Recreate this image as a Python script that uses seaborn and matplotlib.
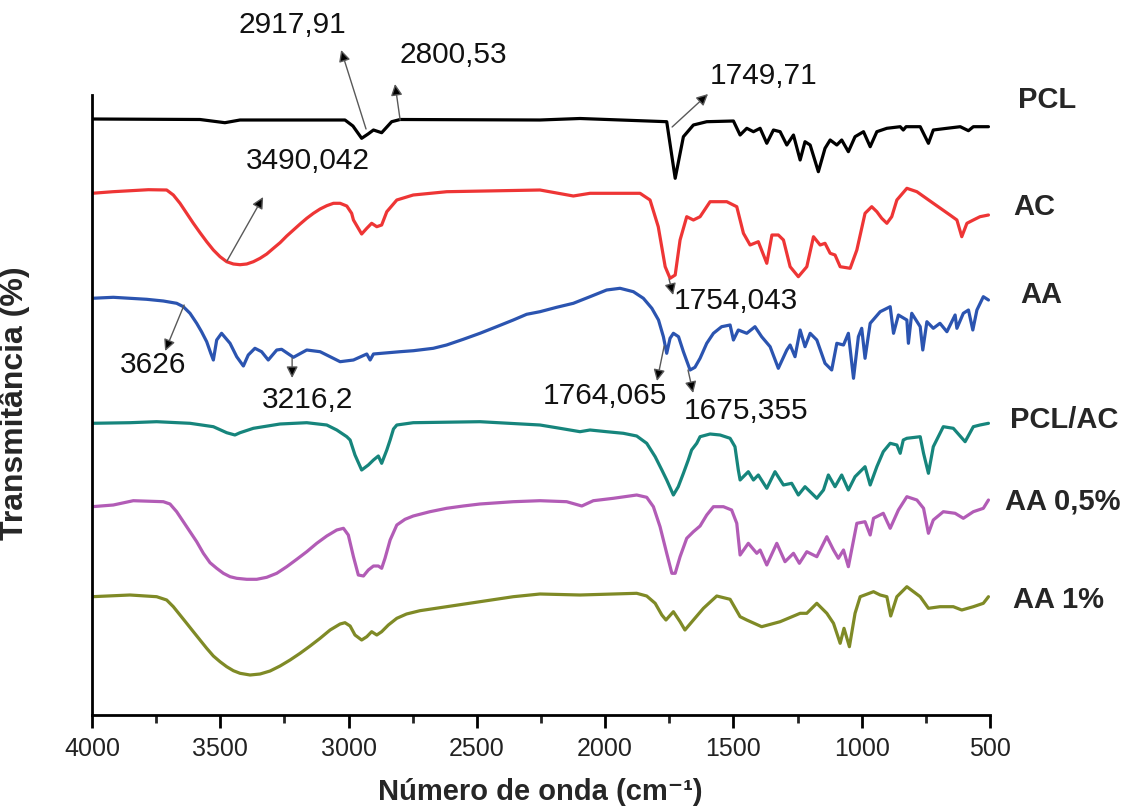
import matplotlib.pyplot as plt
import seaborn as sns
import numpy as np

#
# 01. Dados (número de onda em cm-1, transmitância em unidades arbitrárias, já deslocadas)
#
pcl_wn = [4000, 3579, 3482, 3423, 3014, 2983, 2949, 2924, 2903, 2871, 2832, 2799, 2254, 2098,
          1760, 1727, 1695, 1656, 1604, 1500, 1474, 1448, 1422, 1396, 1370, 1344, 1318, 1292,
          1266, 1240, 1221, 1201, 1169, 1143, 1123, 1097, 1078, 1052, 1026, 993, 967, 941,
          902, 850, 838, 827, 772, 740, 721, 668, 616, 584, 565, 506]
pcl_t = [596, 595.5, 592.3, 595, 595, 589, 576.7, 581, 585, 582.3, 593.3, 595.5, 595, 596.5,
         593.3, 536.7, 578.3, 590, 593.3, 594, 580, 586.7, 583.3, 586.7, 571.7, 585, 583.3, 570,
         580, 555, 573.3, 570, 543.3, 566.7, 575, 570, 575, 563.3, 578.3, 583.3, 568.3, 583.3,
         586.7, 588.3, 585, 588.3, 588.3, 571.7, 585, 586.7, 588.3, 584.3, 588.3, 588.3]

ac_wn = [4000, 3918, 3780, 3709, 3683, 3657, 3631, 3605, 3579, 3553, 3527, 3501, 3475, 3449,
         3423, 3397, 3371, 3345, 3319, 3293, 3267, 3241, 3215, 3189, 3163, 3137, 3111, 3085,
         3059, 3033, 3007, 2988, 2981, 2949, 2929, 2910, 2890, 2871, 2851, 2812, 2748, 2617,
         2254, 2124, 2059, 1864, 1825, 1793, 1766, 1747, 1727, 1708, 1682, 1656, 1630, 1591,
         1526, 1487, 1461, 1435, 1403, 1370, 1350, 1325, 1305, 1279, 1247, 1214, 1188, 1162,
         1143, 1123, 1104, 1084, 1045, 1019, 987, 961, 941, 922, 902, 883, 863, 824, 785, 721,
         656, 629, 610, 590, 565, 539, 506]
ac_t = [521.7, 523.3, 525.3, 525, 520, 511.7, 501.7, 491.7, 482.3, 473.3, 465, 458.3, 453.3, 451,
        450.3, 451, 453.3, 456.7, 461, 466.7, 472.3, 479, 485, 491, 496.7, 501.7, 506, 509.3,
        511.7, 511.7, 509, 501.7, 495, 481, 486.7, 491.7, 488.3, 490, 503.3, 515, 520, 523.3,
        525, 519, 521.7, 521.7, 515, 488.3, 448.3, 436.7, 440, 475, 498.3, 495, 498.3, 513.3,
        513.3, 508.3, 481.7, 470, 473.3, 451.7, 480, 480, 475, 448.3, 438.3, 448.3, 478.3, 470,
        471.7, 461.7, 460, 448.3, 446.7, 465, 501.7, 508.3, 503.3, 496.7, 491.7, 498.3, 515, 526.7, 523.3, 511.7,
        500, 495, 478.3, 491.7, 495, 498.3, 500]

aa_wn = [4000, 3917, 3787, 3722, 3670, 3644, 3618, 3592, 3573, 3553, 3537, 3527, 3514, 3495,
         3462, 3436, 3410, 3391, 3365, 3339, 3313, 3280, 3261, 3215, 3163, 3111, 3033, 2981,
         2929, 2916, 2903, 2799, 2747, 2670, 2618, 2553, 2488, 2423, 2358, 2306, 2254, 2189,
         2124, 2059, 1994, 1942, 1890, 1851, 1818, 1792, 1773, 1760, 1747, 1734, 1714, 1695,
         1669, 1650, 1630, 1604, 1578, 1546, 1513, 1500, 1481, 1448, 1416, 1390, 1357, 1325,
         1292, 1279, 1260, 1240, 1221, 1201, 1175, 1143, 1117, 1097, 1071, 1052, 1032, 1013,
         1000, 987, 967, 928, 889, 876, 857, 824, 818, 805, 772, 762, 746, 721, 695, 668, 636,
         629, 604, 584, 567, 551, 526, 506]
aa_t = [416.7, 417.7, 415.7, 414, 411.7, 408.3, 401.7, 391.7, 383.3, 373.3, 361.7, 355, 375, 381.7,
        371.7, 358.3, 349, 360, 366.7, 363.3, 355, 365, 365.7, 357.7, 365, 363.3, 353.3, 355,
        361, 355, 361, 363.3, 364.3, 366.7, 370, 375.7, 381.7, 388.3, 395, 400.7, 403.3, 407.7,
        411.7, 418.3, 425, 426.7, 423.3, 416.7, 406.7, 395, 378.3, 361.7, 376.7, 381.7, 378.3, 363.3,
        345, 347.7, 356.7, 371.7, 381.7, 388.3, 390, 375, 385, 381.7, 388.3, 378.3, 368.3, 346.7,
        365, 370, 358.3, 385, 368.3, 381.7, 375, 351.7, 345, 371.7, 370, 381.7, 336.7, 378.3,
        386.7, 356.7, 391.7, 403.3, 408.3, 381.7, 400, 395, 371.7, 401.7, 388.3, 365, 393.3, 386.7, 391.7, 383.3, 400,
        386.7, 401.7, 405, 385, 405, 418.3, 415]

pclac_wn = [4000, 3852, 3748, 3618, 3527, 3475, 3443, 3423, 3371, 3267, 3163, 3085, 3046, 3007,
            2994, 2975, 2949, 2923, 2903, 2884, 2871, 2851, 2838, 2825, 2812, 2748, 2488, 2254,
            2176, 2098, 2059, 1994, 1929, 1877, 1838, 1805, 1779, 1760, 1734, 1715, 1695, 1676,
            1663, 1643, 1630, 1591, 1552, 1513, 1494, 1481, 1474, 1442, 1422, 1403, 1370, 1338,
            1305, 1273, 1247, 1221, 1175, 1149, 1130, 1104, 1078, 1052, 1026, 987, 967, 941, 916,
            889, 863, 850, 838, 824, 772, 759, 740, 721, 682, 643, 597, 565, 539, 506]
pclac_t = [291.7, 292.3, 293.3, 291.7, 288.3, 282.3, 280, 282.3, 286.7, 291, 292.3, 290, 285, 278.3,
           275, 260, 245, 250, 255, 259, 251.7, 265, 275, 286, 290, 292.3, 293.3, 290,
           286.7, 283.3, 285, 283.3, 281.7, 279, 271.7, 258.3, 245, 235, 220, 228.3, 241.7, 255,
           265, 271.7, 278.3, 281, 280, 276.7, 268.3, 245, 235, 243.3, 235, 240, 226.7, 243.3,
           230, 231.7, 220, 228.3, 216.7, 225, 240, 228.3, 240, 225, 238.3, 248.3, 230, 248.3, 263.3,
           271.7, 270, 261.7, 275, 276.7, 278.3, 261.7, 241.7, 268.3, 288.3, 286.7, 273.3, 288.3, 290, 291.7]

aa05_wn = [4000, 3917, 3839, 3722, 3696, 3670, 3644, 3618, 3592, 3566, 3540, 3514, 3488, 3462,
           3436, 3397, 3358, 3319, 3280, 3241, 3202, 3163, 3124, 3085, 3046, 3020, 3001, 2981,
           2962, 2942, 2923, 2903, 2884, 2871, 2858, 2838, 2812, 2780, 2748, 2683, 2618, 2553,
           2488, 2358, 2254, 2150, 2091, 2046, 1968, 1877, 1838, 1812, 1786, 1760, 1740, 1727,
           1708, 1682, 1656, 1630, 1604, 1578, 1539, 1507, 1487, 1474, 1442, 1409, 1396, 1370,
           1331, 1299, 1266, 1243, 1214, 1175, 1136, 1110, 1091, 1071, 1052, 1019, 987, 967, 954,
           916, 889, 857, 824, 785, 759, 740, 721, 682, 636, 604, 565, 526, 506]
aa05_t = [208.3, 210, 214.3, 213.3, 211, 203.3, 193.3, 183.3, 173.3, 161.7, 152.3, 146.7, 141.7, 138.3,
          136.7, 135.7, 135.7, 137.7, 141.7, 148.3, 155.7, 163.3, 171.7, 179, 185, 186.7, 180, 158.3,
          140, 139, 145, 149, 149, 146.7, 156.7, 175, 190, 195.7, 199, 203.3, 206.7, 209,
          211, 213.3, 214.3, 213.3, 209, 214.3, 216.7, 220, 217.7, 208.3, 188.3, 161.7, 141.7, 141.7,
          158.3, 176.7, 183.3, 189, 200, 208.3, 208.3, 205, 191.7, 160, 171.7, 161.7, 165, 150,
          171.7, 153.3, 161.7, 151.7, 163.3, 158.3, 178.3, 165, 156.7, 165, 148.3, 191.7, 193.3, 180, 196.7,
          201.7, 186.7, 205, 218.3, 215, 206.7, 181.7, 195, 203.3, 201.7, 196.7, 203.3, 206.7, 215]

aa1_wn = [4000, 3852, 3748, 3709, 3683, 3657, 3631, 3605, 3579, 3553, 3527, 3501, 3475, 3449,
          3423, 3384, 3345, 3306, 3267, 3228, 3189, 3150, 3111, 3072, 3033, 3014, 2994, 2975,
          2949, 2929, 2910, 2890, 2871, 2845, 2812, 2774, 2722, 2618, 2488, 2358, 2254, 2098,
          1877, 1838, 1805, 1779, 1763, 1734, 1708, 1689, 1656, 1617, 1565, 1513, 1474, 1448,
          1390, 1318, 1240, 1214, 1175, 1136, 1110, 1084, 1069, 1048, 1026, 1006, 954, 928, 902,
          887, 863, 824, 772, 740, 695, 643, 610, 565, 526, 506]
aa1_t = [118.3, 120, 118.3, 115, 108.3, 100, 91.7, 83.3, 75, 66.7, 59, 53.3, 48.3, 44.3,
         41.7, 40, 41, 44, 49, 55, 61.7, 69, 76.7, 85, 91, 92.3, 89, 80,
         75, 78.3, 83.3, 80, 83.3, 90, 96.7, 101, 104.3, 108.3, 113.3, 118.3, 121, 120,
         121.7, 119, 111.7, 100, 95, 103.3, 93.3, 85, 95, 106.7, 119, 115.7, 98.3, 95,
         88.3, 93.3, 101.7, 101.7, 111.7, 101.7, 91.7, 71.7, 86.7, 68.3, 101.7, 118.3, 123.3, 120, 118.3,
         99, 118.3, 128.3, 118.3, 106.7, 108.3, 108.3, 105, 108.3, 111.7, 118.3]

amostras = ["PCL", "AC", "AA", "PCL/AC", "AA 0,5%", "AA 1%"]
series = [(pcl_wn, pcl_t), (ac_wn, ac_t), (aa_wn, aa_t),
          (pclac_wn, pclac_t), (aa05_wn, aa05_t), (aa1_wn, aa1_t)]
cores = ["#000000", "#ee3535", "#2b54b0", "#16857c", "#b25cb6", "#7f8a26"]

# rótulos das curvas (borda esquerda em cm-1, y em unidades do gráfico)
rotulos_x = [390, 410, 383, 422, 441, 410]
rotulos_y = [615, 508, 420, 295, 213, 115]

# picos anotados: texto, ponto na curva, ponta da seta, posição do texto
picos = [
    ("2917,91", (2932, 586), (3029, 665), (3220, 690)),
    ("2800,53", (2799, 595), (2819, 631), (2593, 660)),
    ("1749,71", (1739, 588), (1599, 621), (1384, 639)),
    ("3490,042", (3474, 454), (3333, 518), (3158, 554)),
    ("1754,043", (1751, 436), (1735, 420), (1490, 414)),
    ("3626", (3641, 410), (3715, 364), (3762, 350)),
    ("3216,2", (3220, 357), (3220, 337), (3158, 315)),
    ("1764,065", (1770, 369), (1798, 334), (2000, 319)),
    ("1675,355", (1677, 345), (1657, 322), (1451, 304)),
]

#
# 02. Tema
#
sns.set_theme(style="white")
plt.rcParams['font.family'] = ['Liberation Sans', 'DejaVu Sans']

#
# 03. Gráfico
#
fig = plt.figure(figsize=(11.3, 8.07), dpi=100)
ax = fig.add_axes([92 / 1130, 1 - 715 / 807, 898 / 1130, 620 / 807])

for (wn, t), cor in zip(series, cores):
    sns.lineplot(x=wn, y=t, color=cor, linewidth=2.3, estimator=None, sort=False, ax=ax)

ax.set_xlim(4000, 500)
ax.set_ylim(0, 620)

#
# 04. Spines e ticks
#
for lado in ['top', 'right']:
    ax.spines[lado].set_visible(False)
for lado in ['bottom', 'left']:
    ax.spines[lado].set_linewidth(2)
    ax.spines[lado].set_color('black')

ax.set_xticks(np.arange(4000, 499, -500))
ax.set_xticks(np.arange(3750, 500, -500), minor=True)
ax.set_yticks([])
ax.tick_params(axis='x', which='major', direction='out', length=9.5, width=2,
               bottom=True, labelsize=18, pad=6, colors='black', labelcolor='#222222')
ax.tick_params(axis='x', which='minor', direction='out', length=6, width=2, bottom=True)

#
# 05. Rótulos dos eixos
#
ax.set_xlabel("Número de onda (cm⁻¹)", fontsize=21, weight='bold')
ax.xaxis.set_label_coords(0.499, -0.102)
ax.set_ylabel("Transmitância (%)", fontsize=23, weight='bold')
ax.yaxis.set_label_coords(-0.069, 0.503)

#
# 06. Nomes das amostras
#
for nome, x, y in zip(amostras, rotulos_x, rotulos_y):
    ax.text(x, y, nome, fontsize=21, weight='bold', ha='left', va='center', clip_on=False)

#
# 07. Anotações dos picos
#
for texto, ponto, ponta, pos in picos:
    ax.annotate("", xy=ponta, xytext=ponto, annotation_clip=False,
                arrowprops=dict(arrowstyle='-|>', lw=1, mutation_scale=17,
                                fc='black', ec='0.35', shrinkA=0, shrinkB=0))
    ax.text(pos[0], pos[1], texto, fontsize=21.5, ha='center', va='center',
            color='#111111', clip_on=False)

plt.savefig("out.png", dpi=100, facecolor='white')
